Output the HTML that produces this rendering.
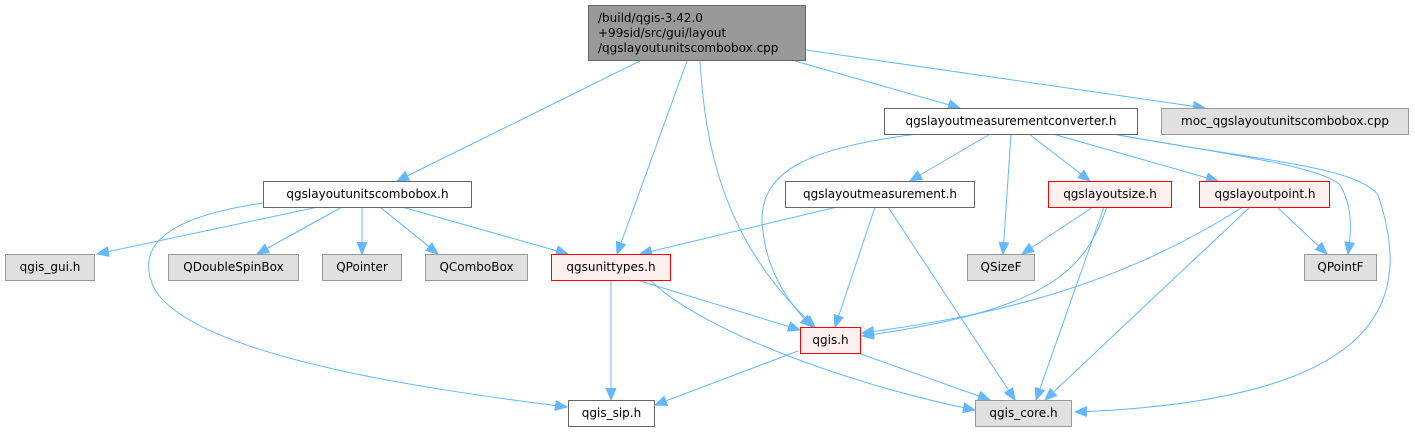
<!DOCTYPE html>
<html><head><meta charset="utf-8"><style>
html,body{margin:0;padding:0;background:#fff;}
svg{display:block;}
text{font-family:"DejaVu Sans","Liberation Sans",sans-serif;font-size:12px;fill:#000;}
</style></head><body>
<svg width="1415" height="432" viewBox="0 0 1415 432" xmlns="http://www.w3.org/2000/svg">
<defs>
<marker id="a" markerUnits="userSpaceOnUse" markerWidth="14" markerHeight="12" refX="12" refY="6" orient="auto">
<path d="M0,1 L12,6 L0,11 Z" fill="#63b8ff" stroke="#63b8ff"/>
</marker>
</defs>
<g fill="none" stroke="#63b8ff" stroke-width="1" marker-end="url(#a)">
<path d="M640,61 L397,181"/>
<path d="M687,61 L617,254"/>
<path d="M700,61 C705,140 720,240 815,327"/>
<path d="M795,61 L960,108"/>
<path d="M806,50 L1205,108"/>
<path d="M318,207 L97,254"/>
<path d="M342,207 L257,254"/>
<path d="M362,207 L362,254"/>
<path d="M380,207 L438,254"/>
<path d="M402,207 L568,254"/>
<path d="M263,203 C180,215 130,240 155,290 C200,360 450,392 567,407"/>
<path d="M917,134 C810,148 762,170 762,220 C764,270 790,305 812,327"/>
<path d="M990,134 L910,181"/>
<path d="M1011,134 L1003,254"/>
<path d="M1029,134 L1090,181"/>
<path d="M1053,134 L1218,181"/>
<path d="M1113,134 C1200,150 1320,165 1340,185 C1355,210 1350,240 1348,254"/>
<path d="M1113,134 C1250,160 1355,165 1378,195 C1410,290 1400,400 1075,412"/>
<path d="M837,207 L640,254"/>
<path d="M875,207 L835,327"/>
<path d="M888,207 L1015,400"/>
<path d="M1093,207 L1022,254"/>
<path d="M1107,207 C1085,270 1050,310 862,336"/>
<path d="M1104,207 L1036,400"/>
<path d="M1243,207 C1120,285 1000,315 862,333"/>
<path d="M1250,207 L1045,400"/>
<path d="M1277,207 L1327,254"/>
<path d="M611,280 L611,400"/>
<path d="M637,280 L800,330"/>
<path d="M650,280 C700,330 850,385 975,410"/>
<path d="M798,351 L655,405"/>
<path d="M858,353 L990,400"/>
</g>
<g stroke-width="1">
<rect x="588.5" y="5.5" width="217" height="55" fill="#999" stroke="#666"/>
<rect x="884.5" y="108.5" width="253" height="26" fill="#fff" stroke="#666"/>
<rect x="1161.5" y="108.5" width="247" height="26" fill="#e0e0e0" stroke="#999"/>
<rect x="263.5" y="181.5" width="208" height="26" fill="#fff" stroke="#666"/>
<rect x="785.5" y="181.5" width="189" height="26" fill="#fff" stroke="#666"/>
<rect x="1048.5" y="181.5" width="123" height="26" fill="#fff0f0" stroke="#f00"/>
<rect x="1199.5" y="181.5" width="130" height="26" fill="#fff0f0" stroke="#f00"/>
<rect x="5.5" y="254.5" width="89" height="26" fill="#e0e0e0" stroke="#999"/>
<rect x="168.5" y="254.5" width="130" height="26" fill="#e0e0e0" stroke="#999"/>
<rect x="322.5" y="254.5" width="79" height="26" fill="#e0e0e0" stroke="#999"/>
<rect x="425.5" y="254.5" width="102" height="26" fill="#e0e0e0" stroke="#999"/>
<rect x="551.5" y="254.5" width="119" height="26" fill="#fff0f0" stroke="#f00"/>
<rect x="967.5" y="254.5" width="67" height="26" fill="#e0e0e0" stroke="#999"/>
<rect x="1304.5" y="254.5" width="72" height="26" fill="#e0e0e0" stroke="#999"/>
<rect x="800.5" y="327.5" width="60" height="26" fill="#fff0f0" stroke="#f00"/>
<rect x="568.5" y="400.5" width="86" height="26" fill="#fff" stroke="#666"/>
<rect x="975.5" y="400.5" width="96" height="26" fill="#e0e0e0" stroke="#999"/>
</g>
<text x="598" y="22">/build/qgis-3.42.0</text>
<text x="598" y="37">+99sid/src/gui/layout</text>
<text x="598" y="52">/qgslayoutunitscombobox.cpp</text>
<g text-anchor="middle">
<text x="1011" y="125">qgslayoutmeasurementconverter.h</text>
<text x="1285" y="125">moc_qgslayoutunitscombobox.cpp</text>
<text x="367.5" y="198">qgslayoutunitscombobox.h</text>
<text x="880" y="198">qgslayoutmeasurement.h</text>
<text x="1110" y="198">qgslayoutsize.h</text>
<text x="1265" y="198">qgslayoutpoint.h</text>
<text x="50" y="271">qgis_gui.h</text>
<text x="233.5" y="271">QDoubleSpinBox</text>
<text x="362" y="271">QPointer</text>
<text x="476.5" y="271">QComboBox</text>
<text x="611" y="271">qgsunittypes.h</text>
<text x="1001" y="271">QSizeF</text>
<text x="1340.5" y="271">QPointF</text>
<text x="830.5" y="344">qgis.h</text>
<text x="611.5" y="417">qgis_sip.h</text>
<text x="1023.5" y="417">qgis_core.h</text>
</g>
</svg>
</body></html>
